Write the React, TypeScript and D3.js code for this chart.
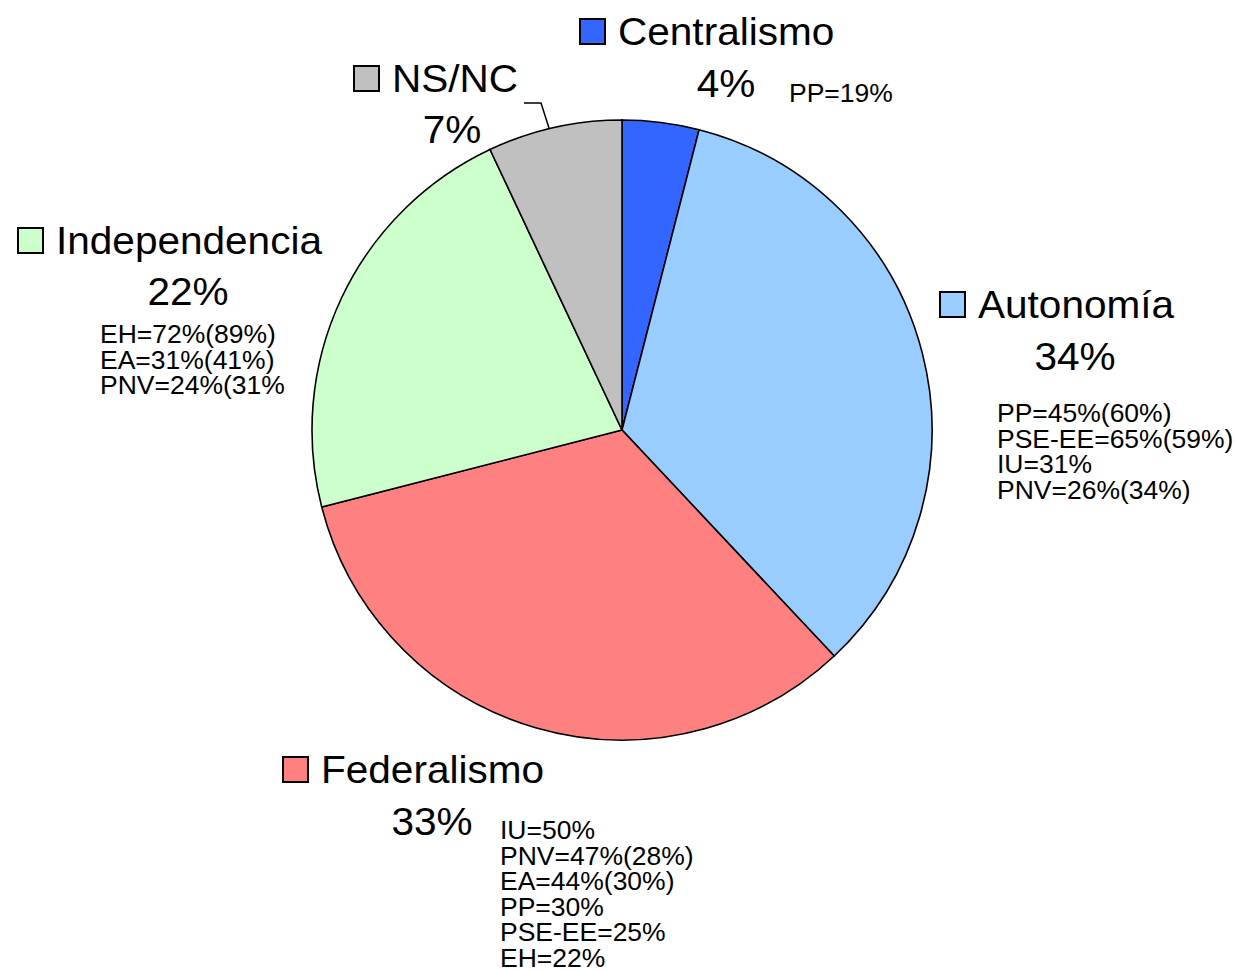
import React from 'react';
import * as d3 from 'd3';

// Chart data
const categories = ['Centralismo', 'Autonomía', 'Federalismo', 'Independencia', 'NS/NC'];
const values = [4, 34, 33, 22, 7];
const colors = ['#3366ff', '#99ccff', '#ff8080', '#ccffcc', '#c0c0c0'];
const notesCentralismo = ['PP=19%'];
const notesAutonomia = ['PP=45%(60%)', 'PSE-EE=65%(59%)', 'IU=31%', 'PNV=26%(34%)'];
const notesFederalismo = ['IU=50%', 'PNV=47%(28%)', 'EA=44%(30%)', 'PP=30%', 'PSE-EE=25%', 'EH=22%'];
const notesIndependencia = ['EH=72%(89%)', 'EA=31%(41%)', 'PNV=24%(31%'];
const notesNsnc: string[] = [];
const notes = [notesCentralismo, notesAutonomia, notesFederalismo, notesIndependencia, notesNsnc];

// Label layout (legend square + name, percentage, party notes)
const layout = [
  { lx: 580, ly: 45, px: 726, py: 97, nx: 789, ny: 102 },
  { lx: 940, ly: 318, px: 1075, py: 370, nx: 997, ny: 422 },
  { lx: 283, ly: 783, px: 432, py: 835, nx: 500, ny: 839 },
  { lx: 18, ly: 254, px: 188, py: 305, nx: 100, ny: 343 },
  { lx: 354, ly: 92, px: 452, py: 143, nx: 0, ny: 0 },
];

const width = 1236;
const height = 970;
const cx = 622;
const cy = 430;
const radius = 310;
const font = '"Liberation Sans", Arial, sans-serif';

export default function App() {
  const pie = d3.pie<number>().sort(null).startAngle(0).endAngle(2 * Math.PI);
  const arcs = pie(values);
  const arc = d3.arc<d3.PieArcDatum<number>>().innerRadius(0).outerRadius(radius);

  // leader line for NS/NC, ends on the rim
  const ns = arcs[4];
  const mid = (ns.startAngle + ns.endAngle) / 2 - 0.017;
  const rimX = cx + radius * Math.sin(mid);
  const rimY = cy - radius * Math.cos(mid);

  return (
    <svg
      width={width}
      height={height}
      style={{ position: 'absolute', left: 0, top: 0, background: '#fff' }}
      fontFamily={font}
    >
      <g transform={`translate(${cx},${cy})`}>
        {arcs.map((a, i) => (
          <path key={i} d={arc(a) || ''} fill={colors[i]} stroke="#000" strokeWidth={1.6} />
        ))}
      </g>

      <polyline
        points={`524,103 541,103 ${rimX},${rimY}`}
        fill="none"
        stroke="#000"
        strokeWidth={1.5}
      />

      {categories.map((c, i) => {
        const p = layout[i];
        return (
          <g key={c}>
            <rect x={p.lx} y={p.ly - 26} width={25} height={25} fill={colors[i]} stroke="#000" strokeWidth={2} />
            <text transform={`translate(${p.lx + 38},${p.ly}) scale(1.04,1)`} fontSize={39} fill="#000">{c}</text>
            <text transform={`translate(${p.px},${p.py}) scale(1.04,1)`} fontSize={39} textAnchor="middle" fill="#000">
              {`${values[i]}%`}
            </text>
            {notes[i].map((n, j) => (
              <text
                key={j}
                transform={`translate(${p.nx},${p.ny + j * 25.5}) scale(1.06,1)`}
                fontSize={25}
                fill="#000"
              >
                {n}
              </text>
            ))}
          </g>
        );
      })}
    </svg>
  );
}
